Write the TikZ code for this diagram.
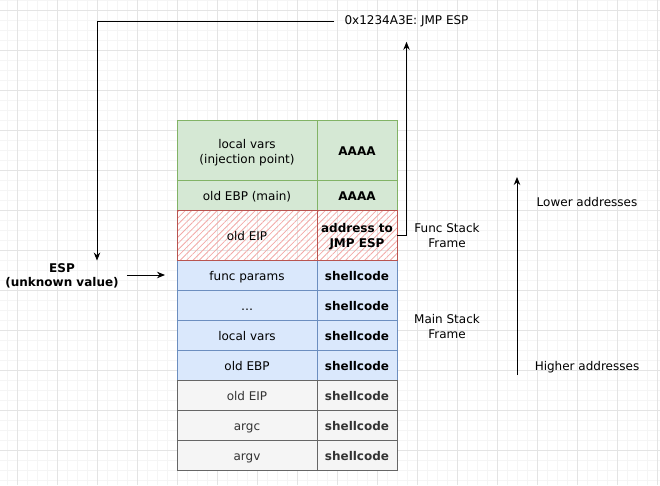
\documentclass[tikz,border=0pt]{standalone}
\usepackage{fontspec}
\setmainfont{DejaVu Sans}
\usetikzlibrary{arrows.meta, patterns.meta}

\definecolor{funcfill}{HTML}{D5E8D4}
\definecolor{funcline}{HTML}{82B366}
\definecolor{mainfill}{HTML}{DAE8FC}
\definecolor{mainline}{HTML}{6C8EBF}
\definecolor{argfill}{HTML}{F5F5F5}
\definecolor{argline}{HTML}{666666}
\definecolor{argtext}{HTML}{333333}
\definecolor{retline}{HTML}{B85450}
\definecolor{rethatch}{HTML}{F2A9A7}
\definecolor{gridmajor}{HTML}{E4E4E4}
\definecolor{gridminor}{HTML}{F5F5F5}

\begin{document}
\begin{tikzpicture}[x=1pt, y=-1pt, >={Stealth[length=8pt,width=6.5pt]},
  every node/.style={font=\fontsize{12}{15}\selectfont},
  cell/.style={draw, line width=1pt, inner sep=0pt, outer sep=0pt, align=center, minimum height=30pt},
  single/.style={text height=12pt, text depth=1pt},
  leftcell/.style={cell, single, minimum width=140pt},
  rightcell/.style={cell, single, minimum width=80pt, font=\fontsize{12}{15}\selectfont\bfseries},
  funcframe/.style={fill=funcfill, draw=funcline},
  mainframe/.style={fill=mainfill, draw=mainline},
  argframe/.style={fill=argfill, draw=argline, text=argtext},
  retframe/.style={draw=retline, pattern={Lines[angle=45, distance=4.5pt, line width=0.8pt]}, pattern color=rethatch},
  note/.style={align=center, inner sep=2pt},
  link/.style={->, line width=1pt}]
  \useasboundingbox (0,0) rectangle (660,485);
  % background grid
  \foreach \gx in {7,17,...,657} \draw[gridminor, line width=0.6pt] (\gx,0) -- (\gx,485);
  \foreach \gy in {0,10,...,480} \draw[gridminor, line width=0.6pt] (0,\gy) -- (660,\gy);
  \foreach \gx in {17,57,...,657} \draw[gridmajor, line width=0.8pt] (\gx,0) -- (\gx,485);
  \foreach \gy in {10,50,...,450} \draw[gridmajor, line width=0.8pt] (0,\gy) -- (660,\gy);

  % main stack frame
  \node[leftcell, mainframe] (fparams) at (247,275) {func params};
  \node[rightcell, mainframe] (fparamsv) at (357,275) {shellcode};
  \node[leftcell, mainframe] (dots) at (247,305) {…};
  \node[rightcell, mainframe] (dotsv) at (357,305) {shellcode};
  \node[leftcell, mainframe] (mlocals) at (247,335) {local vars};
  \node[rightcell, mainframe] (mlocalsv) at (357,335) {shellcode};
  \node[leftcell, mainframe] (mebp) at (247,365) {old EBP};
  \node[rightcell, mainframe] (mebpv) at (357,365) {shellcode};
  % caller of main
  \node[leftcell, argframe] (meip) at (247,395) {old EIP};
  \node[rightcell, argframe] (meipv) at (357,395) {shellcode};
  \node[leftcell, argframe] (argc) at (247,425) {argc};
  \node[rightcell, argframe] (argcv) at (357,425) {shellcode};
  \node[leftcell, argframe] (argv) at (247,455) {argv};
  \node[rightcell, argframe] (argvv) at (357,455) {shellcode};
  % func stack frame
  \node[cell, funcframe, minimum width=140pt, minimum height=60pt] (flocals) at (247,150) {\rule{0pt}{14.4pt}local vars\\(injection point)};
  \node[rightcell, funcframe, minimum height=60pt] (flocalsv) at (357,150) {AAAA};
  \node[leftcell, funcframe] (febp) at (247,195) {old EBP (main)};
  \node[rightcell, funcframe] (febpv) at (357,195) {AAAA};
  % overwritten return address
  \node[leftcell, retframe, minimum height=50pt] (ret) at (247,235) {old EIP};
  \node[cell, retframe, minimum width=80pt, minimum height=50pt, font=\fontsize{12}{15}\selectfont\bfseries] (retv) at (357,235) {\rule{0pt}{12pt}address to\\JMP ESP};

  % labels
  \node[note, inner xsep=10pt] (jmp) at (406.5,21) {0x1234A3E: JMP ESP};
  \node[note, font=\fontsize{12}{14}\selectfont\bfseries] (esp) at (62,276) {ESP\\(unknown value)};
  \node[note] (funclabel) at (447,236) {Func Stack\\Frame};
  \node[note] (mainlabel) at (447,327) {Main Stack\\Frame};
  \node[note] (lowlabel) at (587,202) {Lower addresses};
  \node[note] (highlabel) at (587,367) {Higher addresses};

  % connectors
  \draw[link] (jmp.west) -| ([xshift=35pt,yshift=1pt]esp.north);
  \draw[link] ([xshift=6pt,yshift=1pt]esp.east) -- ([xshift=-12pt]fparams.west);
  \draw[link] (retv.east) -| ([yshift=-13pt]jmp.south);
  % growth direction
  \coordinate (lowend) at (517,177);
  \coordinate (highend) at (517,375);
  \draw[link] (highend) -- (lowend);
\end{tikzpicture}
\end{document}
